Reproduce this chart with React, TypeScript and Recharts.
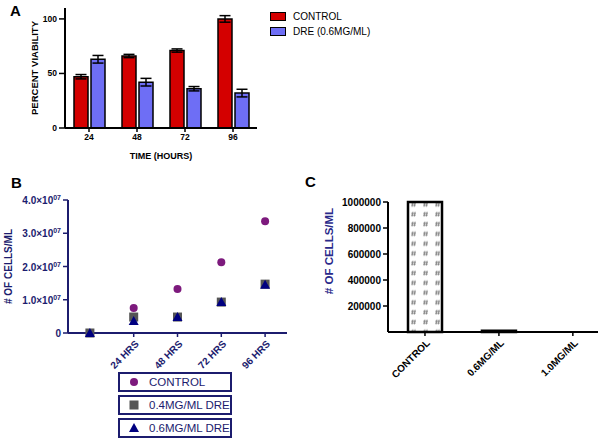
import React from "react";
import {
  BarChart,
  Bar,
  XAxis,
  YAxis,
  ErrorBar,
  Legend,
  ScatterChart,
  Scatter,
} from "recharts";

// Panel A: percent viability over time
const hours = ["24", "48", "72", "96"];
const controlViability = [47, 66, 71, 100];
const controlViabilityErr = [2, 1.5, 1.5, 3];
const dreViability = [63, 42, 36, 32];
const dreViabilityErr = [3.5, 3.5, 2, 3.5];
const viabilityTicks = [0, 50, 100];

// Panel B: cell counts over time
const timePoints = [0, 24, 48, 72, 96];
const hourTicks = [24, 48, 72, 96];
const controlCells = [0, 0.75e7, 1.32e7, 2.13e7, 3.36e7];
const dre04Cells = [0, 0.48e7, 0.48e7, 0.93e7, 1.47e7];
const dre06Cells = [0, 0.36e7, 0.48e7, 0.93e7, 1.45e7];
const cellTicks = [0, 1e7, 2e7, 3e7, 4e7];
const seriesOrderB = ["CONTROL", "0.4MG/ML DRE", "0.6MG/ML DRE"];

// Panel C: cell counts by dose
const doseGroups = ["CONTROL", "0.6MG/ML", "1.0MG/ML"];
const doseCells = [1000000, 10000, 0];
const doseTicks = [200000, 400000, 600000, 800000, 1000000];

const FONT = "'Liberation Sans', Arial, sans-serif";
const NAVY = "#1c1c6e";

const viabilityData = hours.map((h, i) => ({
  h,
  control: controlViability[i],
  controlErr: controlViabilityErr[i],
  dre: dreViability[i],
  dreErr: dreViabilityErr[i],
}));

const toPoints = (vals: number[]) => timePoints.map((t, i) => ({ t, v: vals[i] }));

const doseData = doseGroups.map((name, i) => ({ i, name, v: doseCells[i] }));

function RotLabel({ viewBox, value, dx, dy = 0, fill, size }: any) {
  const x = viewBox.x + dx;
  const y = viewBox.y + viewBox.height / 2 + dy;
  return (
    <text
      x={x}
      y={y}
      transform={`rotate(-90, ${x}, ${y})`}
      textAnchor="middle"
      fontFamily={FONT}
      fontWeight="bold"
      fontSize={size}
      fill={fill}
    >
      {value}
    </text>
  );
}

function SciTick({ x, y, payload }: any) {
  const v = payload.value as number;
  return (
    <text x={x} y={y} dy={4} textAnchor="end" fontFamily={FONT} fontWeight="bold" fontSize={10} fill={NAVY}>
      {v === 0 ? "0" : `${(v / 1e7).toFixed(1)}×10`}
      {v !== 0 && (
        <tspan dy={-4} fontSize={7}>
          07
        </tspan>
      )}
    </text>
  );
}

function SlantTick({ x, y, payload, color, fmt }: any) {
  return (
    <g transform={`translate(${x},${y})`}>
      <text
        x={0}
        y={0}
        dy={8}
        textAnchor="end"
        transform="rotate(-45)"
        fontFamily={FONT}
        fontWeight="bold"
        fontSize={10}
        fill={color}
      >
        {fmt(payload.value)}
      </text>
    </g>
  );
}

function LegendA({ payload }: any) {
  return (
    <div style={{ fontFamily: FONT, fontSize: 10 }}>
      {(payload || []).map((p: any) => (
        <div key={p.value} style={{ display: "flex", alignItems: "center", height: 15 }}>
          <span
            style={{
              display: "inline-block",
              width: 14,
              height: 7,
              background: p.color,
              border: "1px solid #000",
              marginRight: 7,
            }}
          />
          <span>{p.value}</span>
        </div>
      ))}
    </div>
  );
}

function Marker({ kind, size }: { kind: string; size: number }) {
  const c = size / 2;
  if (kind === "circle") return <circle cx={c} cy={c} r={4} fill="#7d1a7d" />;
  if (kind === "square") return <rect x={c - 4.5} y={c - 4.5} width={9} height={9} fill="#555" />;
  return <polygon points={`${c},${c - 5} ${c + 5},${c + 4} ${c - 5},${c + 4}`} fill="#000080" />;
}

const markerKinds: Record<string, string> = {
  CONTROL: "circle",
  "0.4MG/ML DRE": "square",
  "0.6MG/ML DRE": "triangle",
};

function LegendB({ payload }: any) {
  const items = [...(payload || [])].sort(
    (a: any, b: any) => seriesOrderB.indexOf(a.value) - seriesOrderB.indexOf(b.value)
  );
  return (
    <div style={{ fontFamily: FONT, fontSize: 11.5, color: NAVY }}>
      {items.map((p: any) => (
        <div
          key={p.value}
          style={{
            boxSizing: "border-box",
            width: 114,
            height: 20,
            border: `2px solid ${NAVY}`,
            marginBottom: 3,
            display: "flex",
            alignItems: "center",
            paddingLeft: 8,
            whiteSpace: "nowrap",
          }}
        >
          <svg width={12} height={12} style={{ marginRight: 9, flex: "none" }}>
            <Marker kind={markerKinds[p.value]} size={12} />
          </svg>
          <span>{p.value}</span>
        </div>
      ))}
    </div>
  );
}

const shapeFor = (kind: string) => (props: any) => {
  const { cx, cy } = props;
  return (
    <g transform={`translate(${cx - 6},${cy - 6})`}>
      <Marker kind={kind} size={12} />
    </g>
  );
};

const panelLetter = (left: number, top: number): React.CSSProperties => ({
  position: "absolute",
  left,
  top,
  fontFamily: FONT,
  fontWeight: "bold",
  fontSize: 15,
  lineHeight: "15px",
});

export default function App() {
  return (
    <div style={{ position: "absolute", left: 0, top: 0, width: 603, height: 443, background: "#fff", overflow: "hidden" }}>
      <div style={panelLetter(10, 3)}>A</div>
      <div style={panelLetter(11, 175)}>B</div>
      <div style={panelLetter(305, 174)}>C</div>

      <div style={{ position: "absolute", left: 0, top: 0 }}>
        <BarChart
          width={603}
          height={170}
          data={viabilityData}
          margin={{ top: 8, right: 346, left: 0, bottom: 12 }}
          barSize={14}
          barGap={3}
        >
          <XAxis
            dataKey="h"
            height={30}
            axisLine={{ stroke: "#000", strokeWidth: 2 }}
            tickLine={{ stroke: "#000", strokeWidth: 1.5 }}
            tickSize={4}
            tickMargin={2}
            tick={{ fontFamily: FONT, fontWeight: "bold", fontSize: 8.5, fill: "#000" }}
            label={{
              value: "TIME (HOURS)",
              position: "insideBottom",
              offset: -1,
              style: { fontFamily: FONT, fontWeight: "bold", fontSize: 9, fill: "#000" },
            }}
          />
          <YAxis
            width={65}
            domain={[0, 110]}
            ticks={viabilityTicks}
            axisLine={{ stroke: "#000", strokeWidth: 2 }}
            tickLine={{ stroke: "#000", strokeWidth: 1.5 }}
            tickSize={6}
            tickMargin={2}
            tick={{ fontFamily: FONT, fontWeight: "bold", fontSize: 8.5, fill: "#000" }}
            label={<RotLabel value="PERCENT VIABILITY" dx={38} fill="#000" size={9.5} />}
          />
          <Legend
            layout="vertical"
            align="center"
            verticalAlign="middle"
            content={<LegendA />}
            wrapperStyle={{ left: 270, top: 9, width: 140 }}
          />
          <Bar dataKey="control" name="CONTROL" fill="#d40000" stroke="#000" strokeWidth={1.5} isAnimationActive={false}>
            <ErrorBar dataKey="controlErr" width={5.5} stroke="#000" strokeWidth={1.5} />
          </Bar>
          <Bar dataKey="dre" name="DRE (0.6MG/ML)" fill="#6e6ef5" stroke="#000" strokeWidth={1.5} isAnimationActive={false}>
            <ErrorBar dataKey="dreErr" width={5.5} stroke="#000" strokeWidth={1.5} />
          </Bar>
        </BarChart>
      </div>

      <div style={{ position: "absolute", left: 0, top: 170 }}>
        <ScatterChart width={300} height={273} margin={{ top: 30, right: 13, left: 0, bottom: 80 }}>
          <XAxis
            type="number"
            dataKey="t"
            height={30}
            domain={[-12, 108]}
            ticks={hourTicks}
            allowDataOverflow
            axisLine={{ stroke: NAVY, strokeWidth: 2 }}
            tickLine={{ stroke: NAVY, strokeWidth: 1.5 }}
            tickSize={4}
            tick={<SlantTick color={NAVY} fmt={(v: number) => `${v} HRS`} />}
          />
          <YAxis
            type="number"
            dataKey="v"
            width={68}
            domain={[0, 4e7]}
            ticks={cellTicks}
            axisLine={{ stroke: NAVY, strokeWidth: 2 }}
            tickLine={{ stroke: NAVY, strokeWidth: 1.5 }}
            tickSize={5}
            tick={<SciTick />}
            label={<RotLabel value="# OF CELLS/ML" dx={12} fill={NAVY} size={10} />}
          />
          <Legend
            layout="vertical"
            align="center"
            verticalAlign="middle"
            content={<LegendB />}
            wrapperStyle={{ left: 118, top: 202, width: 116 }}
          />
          <Scatter name="CONTROL" data={toPoints(controlCells)} fill="#7d1a7d" shape={shapeFor("circle")} isAnimationActive={false} />
          <Scatter name="0.4MG/ML DRE" data={toPoints(dre04Cells)} fill="#555" shape={shapeFor("square")} isAnimationActive={false} />
          <Scatter name="0.6MG/ML DRE" data={toPoints(dre06Cells)} fill="#000080" shape={shapeFor("triangle")} isAnimationActive={false} />
        </ScatterChart>
      </div>

      <div style={{ position: "absolute", left: 300, top: 170 }}>
        <BarChart width={303} height={273} data={doseData} margin={{ top: 32, right: 5, left: 0, bottom: 81 }}>
          <defs>
            <pattern id="hashFill" width="12" height="9.8" patternUnits="userSpaceOnUse">
              <rect width="12" height="9.8" fill="#fff" />
              <path
                d="M4.9 2.6 L4.1 7.4 M7.1 2.6 L6.3 7.4 M3.2 4.1 H8 M3 6 H7.8"
                stroke="#777"
                strokeWidth={0.8}
                fill="none"
              />
            </pattern>
          </defs>
          <XAxis
            type="number"
            dataKey="i"
            height={30}
            domain={[-0.5, 2.34]}
            ticks={[0, 1, 2]}
            allowDataOverflow
            axisLine={{ stroke: "#000", strokeWidth: 2 }}
            tickLine={{ stroke: "#000", strokeWidth: 1.5 }}
            tickSize={4}
            tick={<SlantTick color="#000" fmt={(v: number) => doseGroups[v]} />}
          />
          <YAxis
            width={88}
            domain={[0, 1000000]}
            ticks={doseTicks}
            axisLine={{ stroke: "#000", strokeWidth: 2 }}
            tickLine={{ stroke: "#000", strokeWidth: 1.5 }}
            tickSize={5}
            tick={{ fontFamily: FONT, fontWeight: "bold", fontSize: 10, fill: "#000" }}
            label={<RotLabel value="# OF CELLS/ML" dx={33} dy={-16} fill="#2a2a8a" size={11.5} />}
          />
          <Bar dataKey="v" barSize={34} fill="url(#hashFill)" stroke="#000" strokeWidth={2.5} isAnimationActive={false} />
        </BarChart>
      </div>
    </div>
  );
}
